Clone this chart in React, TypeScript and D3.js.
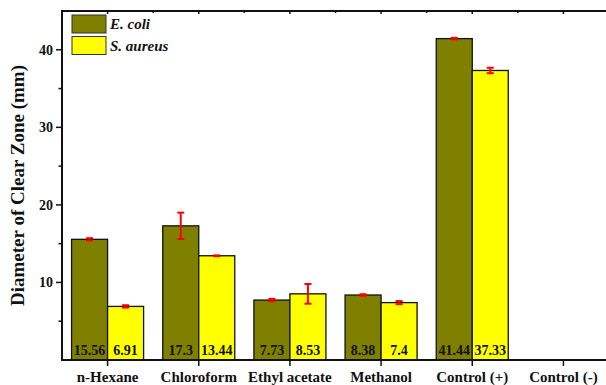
import React from 'react';
import * as d3 from 'd3';

const categories = ['n-Hexane', 'Chloroform', 'Ethyl acetate', 'Methanol', 'Control (+)', 'Control (-)'];
const seriesNames = ['E. coli', 'S. aureus'];
const ecoli = [15.56, 17.3, 7.73, 8.38, 41.44, 0];
const saureus = [6.91, 13.44, 8.53, 7.4, 37.33, 0];
const ecoliErr = [0.15, 1.7, 0.15, 0.1, 0.1, 0];
const saureusErr = [0.15, 0.05, 1.27, 0.2, 0.35, 0];
const yTicks = [10, 20, 30, 40];
const yMinorTicks = [5, 15, 25, 35];
const colors = ['#808000', '#ffff00'];

const width = 606;
const height = 385;
const margin = { top: 11, right: -3, bottom: 25, left: 62 };
const font = "'Liberation Serif', 'DejaVu Serif', serif";

export default function App() {
  const ref = React.useRef<SVGSVGElement>(null);

  React.useEffect(() => {
    const svg = d3.select(ref.current);
    svg.selectAll('*').remove();

    const x0 = d3.scaleBand()
      .domain(categories)
      .range([margin.left, width - margin.right])
      .paddingInner(0.21)
      .paddingOuter(0.105);
    const x1 = d3.scaleBand().domain(seriesNames).range([0, x0.bandwidth()]);
    const y = d3.scaleLinear().domain([0, 45]).range([height - margin.bottom, margin.top]);

    const data = categories.flatMap((c, i) => [
      { cat: c, s: seriesNames[0], v: ecoli[i], e: ecoliErr[i], k: 0 },
      { cat: c, s: seriesNames[1], v: saureus[i], e: saureusErr[i], k: 1 },
    ]);

    // bars
    const bars = data.filter(d => d.v > 0);
    svg.append('g')
      .selectAll('rect')
      .data(bars)
      .join('rect')
      .attr('x', d => x0(d.cat)! + x1(d.s)!)
      .attr('y', d => y(d.v))
      .attr('width', x1.bandwidth())
      .attr('height', d => y(0) - y(d.v))
      .attr('fill', d => colors[d.k])
      .attr('stroke', '#111')
      .attr('stroke-width', 1.3);

    // error bars
    const eb = svg.append('g').attr('stroke', '#ff0000').attr('stroke-width', 2);
    bars.forEach(d => {
      const cx = x0(d.cat)! + x1(d.s)! + x1.bandwidth() / 2;
      const top = y(d.v + d.e), bot = y(d.v - d.e);
      eb.append('line').attr('x1', cx).attr('x2', cx).attr('y1', top).attr('y2', bot);
      eb.append('line').attr('x1', cx - 3.5).attr('x2', cx + 3.5).attr('y1', top).attr('y2', top);
      eb.append('line').attr('x1', cx - 3.5).attr('x2', cx + 3.5).attr('y1', bot).attr('y2', bot);
    });

    const txt = (sel: any, size: number) => sel
      .attr('font-family', font)
      .attr('font-weight', 'bold')
      .attr('font-size', size)
      .attr('fill', '#111');

    // value labels
    svg.append('g')
      .attr('text-anchor', 'middle')
      .selectAll('text')
      .data(bars)
      .join('text')
      .call(txt, 14)
      .attr('x', d => x0(d.cat)! + x1(d.s)! + x1.bandwidth() / 2)
      .attr('y', y(0) - 5)
      .text(d => String(d.v));

    // axes frame
    const frame = svg.append('g').attr('stroke', '#111').attr('stroke-width', 2);
    frame.append('line').attr('x1', margin.left).attr('x2', margin.left).attr('y1', margin.top).attr('y2', y(0) + 1);
    frame.append('line').attr('x1', margin.left - 1).attr('x2', width).attr('y1', margin.top).attr('y2', margin.top);
    frame.append('line').attr('x1', margin.left - 1).attr('x2', width).attr('y1', y(0)).attr('y2', y(0));

    // y ticks
    const yAxis = svg.append('g');
    yAxis.selectAll('line.major').data(yTicks).join('line')
      .attr('x1', margin.left - 6).attr('x2', margin.left)
      .attr('y1', d => y(d)).attr('y2', d => y(d))
      .attr('stroke', '#111').attr('stroke-width', 1.5);
    yAxis.selectAll('line.minor').data(yMinorTicks).join('line')
      .attr('x1', margin.left - 3.5).attr('x2', margin.left)
      .attr('y1', d => y(d)).attr('y2', d => y(d))
      .attr('stroke', '#111').attr('stroke-width', 1.5);
    yAxis.selectAll('text').data(yTicks).join('text')
      .call(txt, 14)
      .attr('x', margin.left - 9).attr('y', d => y(d)).attr('dy', '0.35em')
      .attr('text-anchor', 'end')
      .text(d => d);

    // x ticks (bottom: major only, top: major + minor)
    const centers = categories.map(c => x0(c)! + x0.bandwidth() / 2);
    const step = x0.step();
    const xAxis = svg.append('g').attr('stroke', '#111').attr('stroke-width', 1.5);
    centers.forEach(cx => {
      xAxis.append('line').attr('x1', cx).attr('x2', cx).attr('y1', y(0)).attr('y2', y(0) + 6);
      xAxis.append('line').attr('x1', cx).attr('x2', cx).attr('y1', margin.top).attr('y2', margin.top + 3);
      xAxis.append('line').attr('x1', cx - step / 2).attr('x2', cx - step / 2).attr('y1', margin.top).attr('y2', margin.top + 2);
    });
    svg.append('g')
      .attr('text-anchor', 'middle')
      .selectAll('text').data(categories).join('text')
      .call(txt, 15)
      .attr('x', (d, i) => centers[i]).attr('y', y(0) + 22)
      .text(d => d);

    // y label
    svg.append('text')
      .call(txt, 19)
      .attr('transform', `translate(24,${(margin.top + y(0)) / 2}) rotate(-90)`)
      .attr('text-anchor', 'middle')
      .text('Diameter of Clear Zone (mm)');

    // legend
    const legend = svg.append('g').attr('transform', `translate(${margin.left + 10},15)`);
    seriesNames.forEach((s, i) => {
      legend.append('rect')
        .attr('x', 0).attr('y', i * 21.5).attr('width', 34).attr('height', 18)
        .attr('fill', colors[i]).attr('stroke', '#333').attr('stroke-width', 1);
      legend.append('text')
        .call(txt, 15)
        .attr('font-style', 'italic')
        .attr('x', 38).attr('y', i * 21.5 + 14)
        .text(s);
    });
  }, []);

  return <svg ref={ref} width={width} height={height} style={{ position: 'absolute', left: 0, top: 0, background: '#fff' }} />;
}
